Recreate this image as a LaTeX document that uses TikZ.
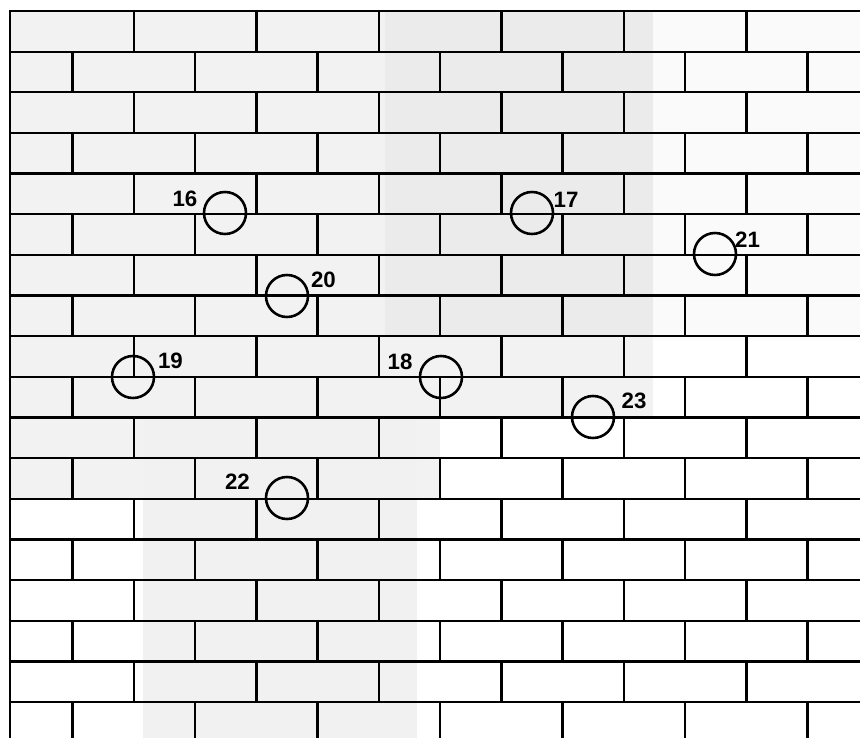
\documentclass[tikz,border=0pt]{standalone}
\usepackage{fontspec}
\setmainfont{Liberation Sans}
\tikzset{
  joint/.style={line width=1.9pt,line cap=rect},
  probe/.style={circle,draw,line width=2.2pt,minimum size=1.26cm,inner sep=0pt},
  tag/.style={font=\bfseries\fontsize{19}{19}\selectfont,inner sep=0pt},
  scan/.style={draw=none}
}

\begin{document}
\begin{tikzpicture}[x=0.03cm,y=-0.03cm]
    \useasboundingbox (0,0) rectangle (860,738);
    % grey of the scanned page
    \fill[scan,gray!4]  (653,11) rectangle (860,340);
    \fill[scan,gray!10] (10,11) rectangle (653,417);
    \fill[scan,gray!16] (385,11) rectangle (653,336);
    \fill[scan,gray!10] (10,417) rectangle (440,498);
    \fill[scan,gray!11] (143,417) rectangle (417,738);
    % brick courses
    \begin{scope}
      \clip (0,0) rectangle (860,738);
      \foreach \row in {0,...,17}{
        \pgfmathsetmacro\ytop{11+40.65*\row}
        \pgfmathsetmacro\xoff{mod(\row,2)==0 ? 134 : 72.5}
        \draw[joint] (10,\ytop) -- (860,\ytop);
        \foreach \j in {0,...,6}
          \draw[joint] ({\xoff+122.5*\j},\ytop) -- ++(0,40.65);
      }
      \draw[joint] (10,11) -- (10,738);
    \end{scope}
    % measuring points
    \node[probe] (c16) at (225,213) {};
    \node[probe] (c17) at (532,213) {};
    \node[probe] (c21) at (715,254) {};
    \node[probe] (c20) at (287,296) {};
    \node[probe] (c19) at (133,377) {};
    \node[probe] (c18) at (441,377) {};
    \node[probe] (c23) at (593,417) {};
    \node[probe] (c22) at (287,498) {};
    \node[tag] (l16) at (185,198.5) {16};
    \node[tag] (l17) at (566,200) {17};
    \node[tag] (l21) at (747.5,240) {21};
    \node[tag] (l20) at (323.5,280) {20};
    \node[tag] (l19) at (170.5,361) {19};
    \node[tag] (l18) at (400,361.5) {18};
    \node[tag] (l23) at (634,401) {23};
    \node[tag] (l22) at (237.5,482) {22};
\end{tikzpicture}
\end{document}
